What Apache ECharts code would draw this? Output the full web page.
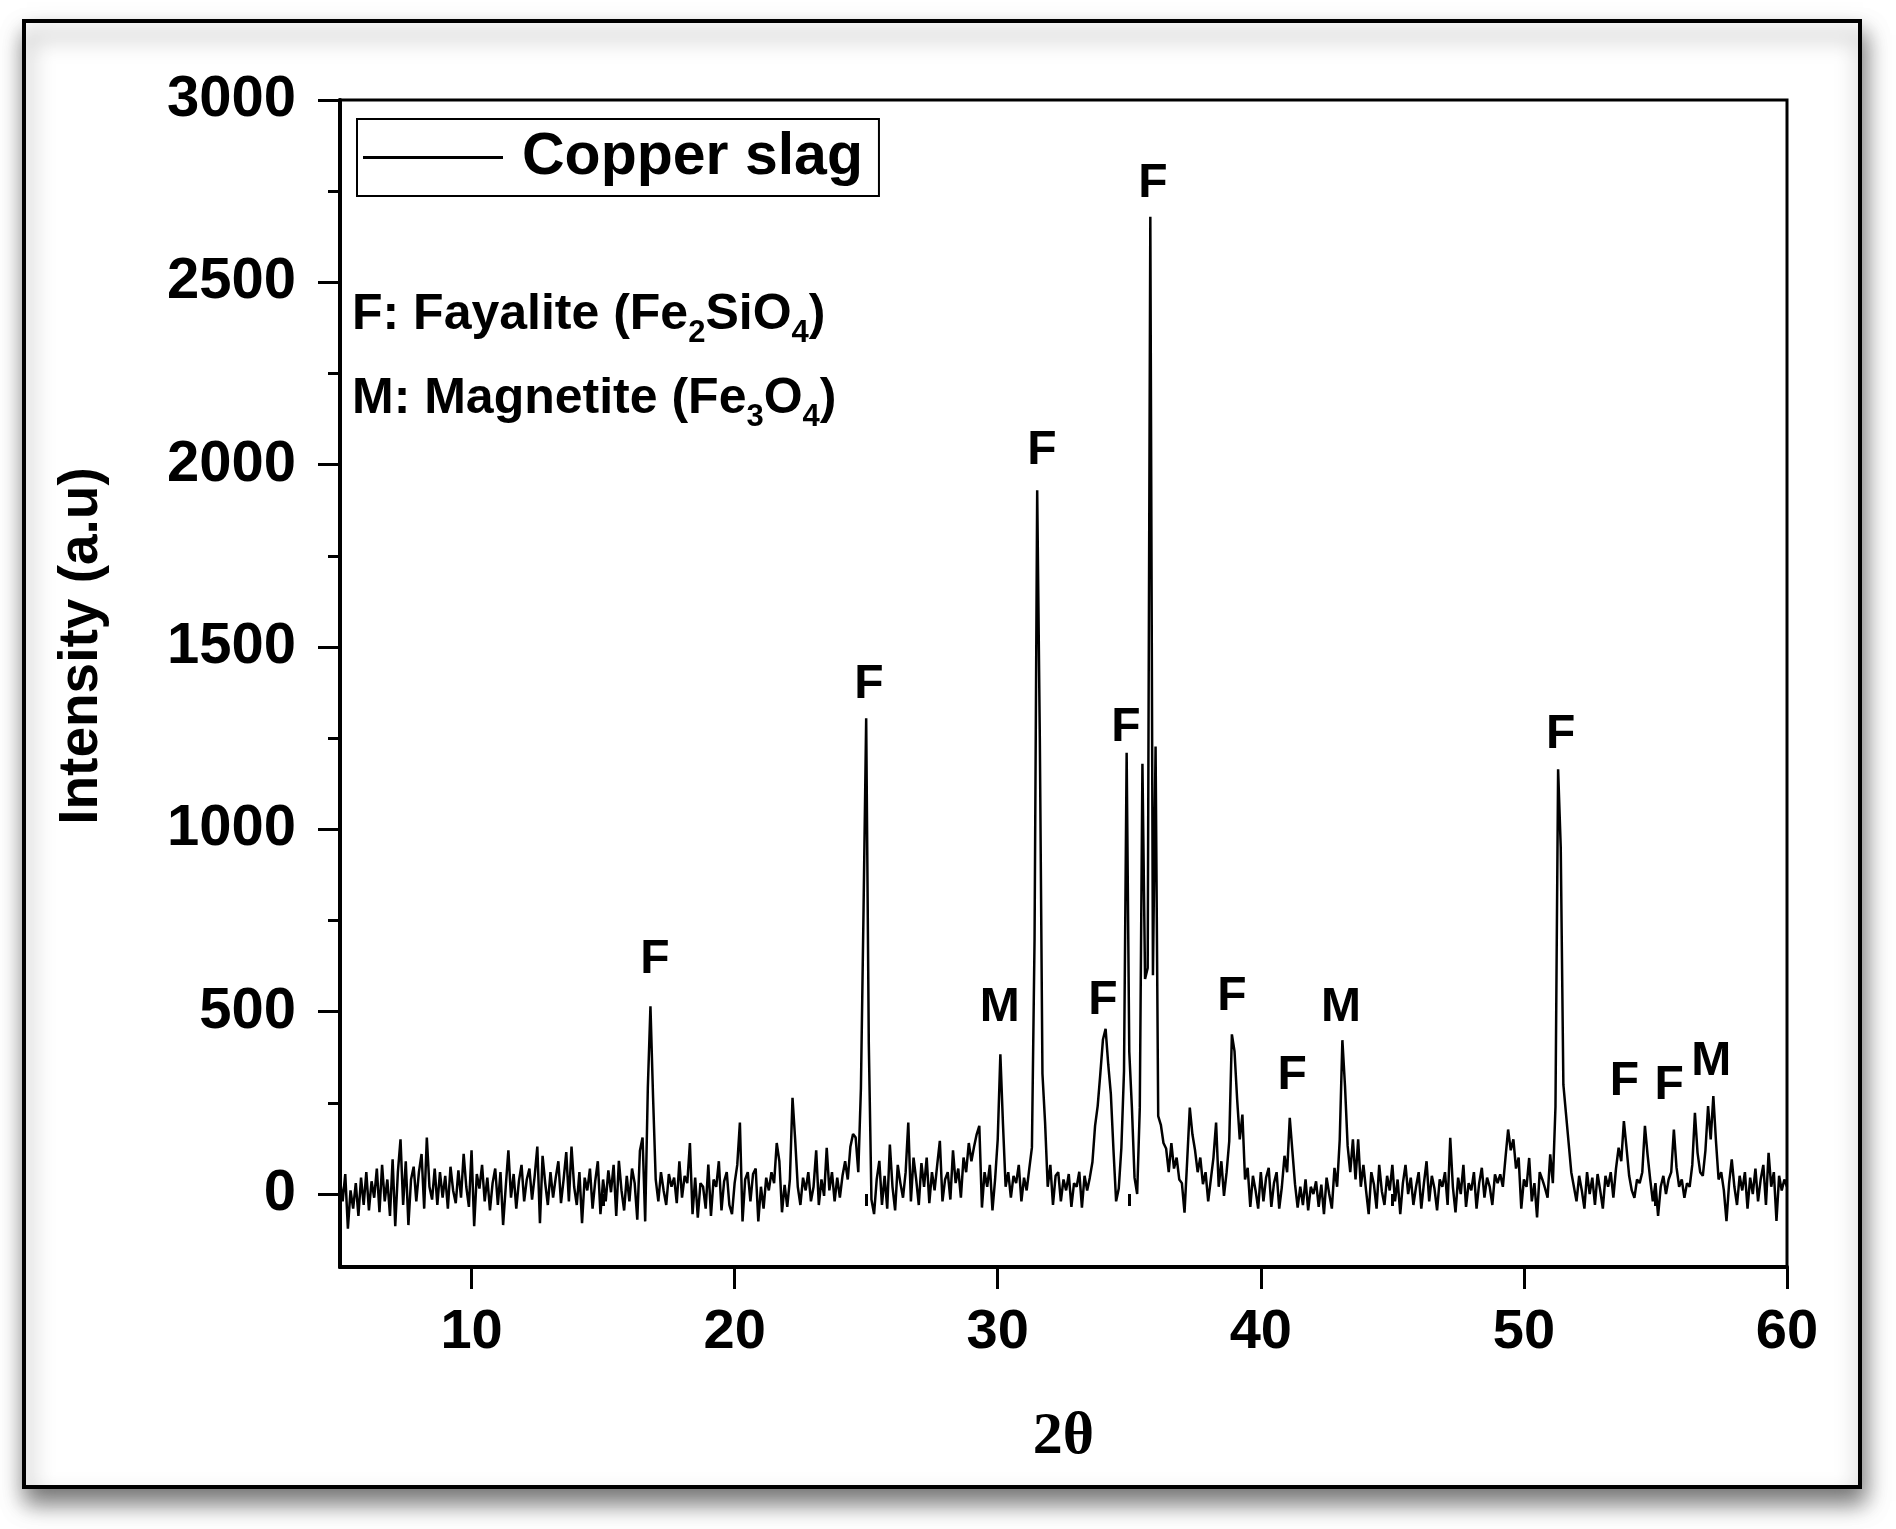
<!DOCTYPE html>
<html>
<head>
<meta charset="utf-8">
<script src="https://cdn.jsdelivr.net/npm/echarts@6/dist/echarts.min.js"></script>
<style>
html,body{margin:0;padding:0;background:#fff;}
#chart{width:1896px;height:1529px;}
</style>
</head>
<body>
<div id="chart"></div>
<script>
// XRD pattern: 2θ from 5.0 to 60.0 in steps of 0.1
const twoThetaStart = 5.0;
const twoThetaStep = 0.1;
const intensity = [
  40, -20, 55, -95, 10, -40, 30, -60, 45, -30,      // 5
  60, -45, 35, -10, 70, -50, 80, -20, 40, -60,      // 6
  95, -88, 60, 150, -30, 90, -85, 40, 75, -20,      // 7
  60, 110, -40, 155, 20, -15, 70, -30, 60, -10,     // 8
  50, -40, 75, 10, -25, 65, -10, 110, 20, -35,      // 9
  120, -88, 55, 15, 80, -20, 45, -45, 30, 70,       // 10
  -30, 60, -85, 20, 120, -10, 55, -40, 35, 80,      // 11
  -20, 40, 70, -15, 50, 130, -80, 105, 30, -30,     // 12
  60, -10, 45, 90, -25, 40, 115, -20, 130, 20,      // 13
  -30, 60, -80, 45, 10, 70, -40, 35, 90, -55,       // 14
  40, -20, 65, 5, 80, -60, 91, 10, -45, 50,         // 15
  -20, 70, 30, -70, 119, 155, -75, 290, 515, 265,   // 16
  40, -20, 60, 10, -30, 55, 20, 45, -25, 90,        // 17
  -10, 50, 30, 140, -55, 45, -65, 30, 20, -40,      // 18
  81, -60, 40, 20, 90, -45, 35, 60, -30, -55,       // 19
  30, 80, 196, -75, 40, 60, -20, 55, 70, -75,       // 20
  20, -40, 45, 10, 60, 30, 140, 90, -50, 25,        // 21
  -35, 40, 264, 150, 20, -30, 45, 10, 60, -20,      // 22
  20, 120, -30, 40, -5, 127, 10, 60, -20, 45,       // 23
  -10, 50, 90, 40, 130, 165, 155, 60, 290, 780,     // 24
  1305, 411, -15, -55, 40, 91, -30, 50, -40, 136,   // 25
  20, -45, 80, 30, -10, 60, 196, -20, 100, 40,      // 26
  -30, 85, 20, 100, -25, 60, 10, 80, 146, -20,      // 27
  40, 60, -15, 120, 30, 70, -10, 100, 60, 140,      // 28
  90, 130, 164, 187, -37, 60, 20, 80, -45, 40,      // 29
  150, 383, 191, 20, 60, -10, 50, 30, 80, -20,      // 30
  45, 10, 70, 128, 700, 1930, 1250, 330, 196, 20,   // 31
  80, -30, 50, 60, -20, 40, 10, 55, -35, 30,        // 32
  20, 61, -37, 50, 10, 45, 88, 187, 242, 330,       // 33
  424, 453, 356, 274, 120, -20, 15, 127, 337, 1210, // 34
  390, 237, 45, 0, 237, 1180, 590, 620, 2680, 600,  // 35
  1227, 214, 190, 140, 125, 60, 140, 70, 100, 40,   // 36
  30, -51, 90, 237, 164, 120, 60, 100, 27, 60,      // 37
  -20, 40, 100, 196, 20, 90, -5, 60, 145, 438,      // 38
  392, 260, 150, 218, 40, 72, -35, 50, 10, -40,     // 39
  60, -20, 45, 72, -35, 30, 60, -40, 20, 105,       // 40
  60, 209, 118, 27, -37, 20, -30, 40, -45, 20,      // 41
  0, 35, -35, 26, -55, 45, 0, -40, 72, 20,          // 42
  150, 422, 296, 132, 60, 150, 40, 150, 20, 80,     // 43
  10, -55, 60, 26, -40, 80, 8, -30, 50, 10,         // 44
  80, -20, 40, -55, 30, 80, 0, 45, -30, 20,         // 45
  60, -40, 30, 90, -20, 50, 15, -45, 40, 20,        // 46
  60, -30, 154, 20, -50, 45, 0, 80, -35, 30,        // 47
  10, 60, -40, 30, 72, -10, 45, 20, -30, 54,        // 48
  30, 54, 20, 100, 177, 120, 150, 70, 100, -40,     // 49
  40, 20, 99, -20, 30, -64, 60, 40, 17, -10,        // 50
  109, 30, 240, 1165, 950, 300, 220, 140, 60, 20,   // 51
  -20, 50, 10, -40, 60, 0, 45, -30, 55, 10,         // 52
  -40, 50, 20, 60, -10, 70, 127, 90, 200, 127,      // 53
  50, 10, -10, 40, 30, 60, 187, 108, 40, -20,       // 54
  30, -60, 20, 50, 0, 40, 60, 177, 73, 20,          // 55
  40, -10, 30, 20, 80, 223, 113, 60, 50, 120,       // 56
  241, 150, 269, 145, 40, 60, 10, -74, 30, 95,      // 57
  20, -30, 50, 10, 60, -40, 45, 0, 70, -20,         // 58
  40, 80, -30, 113, 20, 60, -74, 50, 10, 40,        // 59
  20                                                // 60
];

const xMajorTicks = [10, 20, 30, 40, 50, 60];
const xMinorTicks = [5, 15, 25, 35, 45, 55];
const yMajorTicks = [0, 500, 1000, 1500, 2000, 2500, 3000];
const yMinorTicks = [250, 750, 1250, 1750, 2250, 2750];

// phase labels placed above the peaks (2θ, intensity, text)
const peakLabelX = [16.97, 25.1, 30.08, 31.68, 34.0, 34.87, 35.9, 38.9, 41.19, 43.05, 51.4, 53.82, 55.52, 57.12];
const peakLabelY = [642, 1397, 510, 2037, 530, 1279, 2770, 541, 324, 511, 1260, 307, 298, 362];
const peakLabelText = ['F', 'F', 'M', 'F', 'F', 'F', 'F', 'F', 'F', 'M', 'F', 'F', 'F', 'M'];

const seriesName = 'Copper slag';
const xTitle = '2θ';
const yTitle = 'Intensity (a.u)';

const lineData = intensity.map((v, i) => [+(twoThetaStart + i * twoThetaStep).toFixed(2), v]);
const labelData = peakLabelX.map((x, i) => ({ value: [x, peakLabelY[i]], name: peakLabelText[i] }));

const SANS = 'Liberation Sans, Arial, sans-serif';
const chart = echarts.init(document.getElementById('chart'), null, { renderer: 'canvas' });

const subStyle = { fontSize: 31, lineHeight: 31, verticalAlign: 'bottom', fontWeight: 'bold', fontFamily: SANS, color: '#000' };
const mainStyle = { fontSize: 50, lineHeight: 68, fontWeight: 'bold', fontFamily: SANS, color: '#000' };

chart.setOption({
  animation: false,
  backgroundColor: '#ffffff',
  graphic: [
    {
      type: 'rect', z: -10, silent: true,
      shape: { x: 24, y: 21, width: 1836, height: 1466 },
      style: { fill: '#ffffff', stroke: '#000', lineWidth: 4, shadowBlur: 22, shadowOffsetX: 3, shadowOffsetY: 14, shadowColor: 'rgba(0,0,0,0.55)' }
    },
    {
      type: 'text', z: 100, silent: true,
      x: 82, y: 646, rotation: Math.PI / 2,
      style: { text: yTitle, fontSize: 55, fontWeight: 'bold', fontFamily: SANS, fill: '#000', align: 'center', verticalAlign: 'middle' }
    },
    {
      type: 'text', z: 100, silent: true,
      x: 352, y: 315,
      style: {
        text: '{m|F: Fayalite (Fe}{s|2}{m|SiO}{s|4}{m|)}',
        align: 'left', verticalAlign: 'middle',
        rich: { m: mainStyle, s: subStyle }
      }
    },
    {
      type: 'text', z: 100, silent: true,
      x: 352, y: 399,
      style: {
        text: '{m|M: Magnetite (Fe}{s|3}{m|O}{s|4}{m|)}',
        align: 'left', verticalAlign: 'middle',
        rich: { m: mainStyle, s: subStyle }
      }
    }
  ],
  legend: {
    data: [seriesName],
    left: 357, top: 119,
    orient: 'vertical',
    padding: [9, 16, 9, 6],
    borderColor: '#000', borderWidth: 2,
    backgroundColor: '#fff',
    icon: 'rect', itemWidth: 140, itemHeight: 3,
    textStyle: { fontSize: 59, fontWeight: 'bold', fontFamily: SANS, color: '#000', padding: [0, 0, 0, 14] },
    selectedMode: false
  },
  grid: {
    left: 340, right: 109, top: 100, bottom: 262,
    show: true, borderColor: '#000', borderWidth: 3, backgroundColor: 'transparent'
  },
  xAxis: [
    {
      type: 'value', min: 5, max: 60,
      name: xTitle, nameLocation: 'middle', nameGap: 140,
      nameTextStyle: { fontSize: 60, fontWeight: 'bold', fontFamily: 'Liberation Serif, Times New Roman, serif', color: '#000' },
      axisLine: { show: true, onZero: false, lineStyle: { color: '#000', width: 4 } },
      axisTick: { show: true, inside: false, length: 22, customValues: xMajorTicks, lineStyle: { color: '#000', width: 3 } },
      axisLabel: { show: true, customValues: xMajorTicks, margin: 38, fontSize: 56, fontWeight: 'bold', fontFamily: SANS, color: '#000', formatter: v => String(v) },
      splitLine: { show: false }
    },
    {
      type: 'value', min: 5, max: 60, position: 'bottom', offset: 0,
      axisLine: { show: false },
      axisTick: { show: true, inside: false, length: 12, customValues: xMinorTicks, lineStyle: { color: '#000', width: 3 } },
      axisLabel: { show: false },
      splitLine: { show: false }
    }
  ],
  yAxis: [
    {
      type: 'value', min: -200, max: 3000,
      axisLine: { show: true, onZero: false, lineStyle: { color: '#000', width: 4 } },
      axisTick: { show: true, inside: false, length: 22, customValues: yMajorTicks, lineStyle: { color: '#000', width: 3 } },
      axisLabel: { show: true, customValues: yMajorTicks, margin: 44, fontSize: 58, fontWeight: 'bold', fontFamily: SANS, color: '#000', formatter: v => String(v) },
      splitLine: { show: false }
    },
    {
      type: 'value', min: -200, max: 3000, position: 'left', offset: 0,
      axisLine: { show: false },
      axisTick: { show: true, inside: false, length: 12, customValues: yMinorTicks, lineStyle: { color: '#000', width: 3 } },
      axisLabel: { show: false },
      splitLine: { show: false }
    }
  ],
  series: [
    {
      name: seriesName,
      type: 'line',
      xAxisIndex: 0, yAxisIndex: 0,
      data: lineData,
      showSymbol: false,
      symbol: 'none',
      lineStyle: { color: '#000', width: 2.5 },
      itemStyle: { color: '#000' },
      z: 3
    },
    {
      name: 'labels',
      type: 'scatter',
      xAxisIndex: 0, yAxisIndex: 0,
      data: labelData,
      symbolSize: 1,
      itemStyle: { color: 'rgba(0,0,0,0)', opacity: 1 },
      silent: true,
      label: {
        show: true, position: 'inside',
        formatter: p => p.name,
        fontSize: 48, fontWeight: 'bold', fontFamily: SANS, color: '#000', opacity: 1
      },
      z: 4
    }
  ]
});
</script>
</body>
</html>
